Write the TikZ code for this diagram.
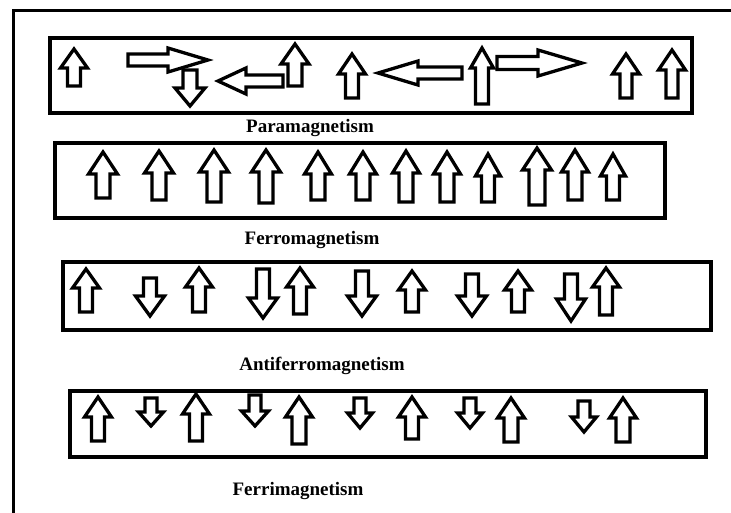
\documentclass[tikz,border=0pt]{standalone}
\usepackage{fontspec}
\setmainfont{Liberation Serif}
\newcommand\UpArr[6]{%
 \draw[arr] (#1,#2) -- ({#1+#4/2},{#2+#6}) -- ({#1+#5/2},{#2+#6}) -- ({#1+#5/2},#3) -- ({#1-#5/2},#3) -- ({#1-#5/2},{#2+#6}) -- ({#1-#4/2},{#2+#6}) -- cycle;}
\newcommand\DnArr[6]{%
 \draw[arr] (#1,#3) -- ({#1+#4/2},{#3-#6}) -- ({#1+#5/2},{#3-#6}) -- ({#1+#5/2},#2) -- ({#1-#5/2},#2) -- ({#1-#5/2},{#3-#6}) -- ({#1-#4/2},{#3-#6}) -- cycle;}
\newcommand\RtArr[6]{%
 \draw[arr] (#3,#1) -- ({#3-#6},{#1-#4/2}) -- ({#3-#6},{#1-#5/2}) -- (#2,{#1-#5/2}) -- (#2,{#1+#5/2}) -- ({#3-#6},{#1+#5/2}) -- ({#3-#6},{#1+#4/2}) -- cycle;}
\newcommand\LtArr[6]{%
 \draw[arr] (#3,#1) -- ({#3+#6},{#1-#4/2}) -- ({#3+#6},{#1-#5/2}) -- (#2,{#1-#5/2}) -- (#2,{#1+#5/2}) -- ({#3+#6},{#1+#5/2}) -- ({#3+#6},{#1+#4/2}) -- cycle;}
\begin{document}
\begin{tikzpicture}[x=1pt,y=-1pt,
  arr/.style={draw=black,fill=white,line width=3.3pt,line join=miter},
  panel/.style={draw=black,line width=3.2pt},
  lbl/.style={font=\bfseries\fontsize{19}{21}\selectfont,inner sep=0pt}]
\useasboundingbox (0,0) rectangle (731,512);
\fill[white] (0,0) rectangle (731,512);
% outer frame
\draw[line width=3pt] (13,515) -- (13,10) -- (735,10);
% panels
\draw[panel] (50,38) rectangle (692,113);
\draw[panel] (55,143) rectangle (665,218);
\draw[panel] (63,262) rectangle (711,330);
\draw[panel] (70,391) rectangle (706,457);
% labels
\node[lbl] (lpara) at (310,128) {Paramagnetism};
\node[lbl] (lferro) at (312,240) {Ferromagnetism};
\node[lbl] (lanti) at (322,366) {Antiferromagnetism};
\node[lbl] (lferri) at (298,491) {Ferrimagnetism};
% Paramagnetism
\UpArr{74}{49}{86}{27}{13}{19}
\RtArr{60}{128}{208}{24}{12}{40}
\DnArr{190}{70}{106}{30}{14}{18}
\LtArr{81}{283}{218}{26}{12}{28}
\UpArr{295}{44}{86}{28}{14}{20}
\UpArr{352}{54}{98}{27}{13}{20}
\LtArr{73}{462}{378}{24}{12}{40}
\UpArr{482}{48}{104}{23}{13}{20}
\RtArr{63}{497}{582}{26}{13}{44}
\UpArr{626}{54}{98}{27}{12}{20}
\UpArr{672}{50}{98}{27}{12}{20}
% Ferromagnetism
\UpArr{103}{152}{198}{29}{14}{22}
\UpArr{159}{151}{200}{29}{14}{22}
\UpArr{214}{150}{202}{29}{14}{22}
\UpArr{266}{150}{203}{29}{14}{22}
\UpArr{318}{152}{200}{27}{14}{22}
\UpArr{363}{152}{200}{27}{14}{22}
\UpArr{406}{151}{202}{27}{14}{22}
\UpArr{447}{152}{202}{27}{14}{22}
\UpArr{488}{154}{202}{25}{13}{22}
\UpArr{537}{148}{205}{29}{16}{22}
\UpArr{575}{150}{200}{27}{14}{22}
\UpArr{613}{154}{200}{25}{13}{22}
% Antiferromagnetism
\UpArr{86}{269}{312}{27}{13}{19}
\DnArr{150}{278}{316}{29}{13}{20}
\UpArr{199}{268}{312}{27}{13}{19}
\DnArr{263}{269}{318}{29}{13}{20}
\UpArr{300}{268}{314}{27}{13}{19}
\DnArr{362}{271}{316}{29}{13}{20}
\UpArr{412}{271}{312}{27}{13}{19}
\DnArr{472}{274}{316}{29}{13}{20}
\UpArr{518}{271}{312}{27}{13}{19}
\DnArr{571}{274}{321}{29}{13}{22}
\UpArr{606}{268}{315}{27}{13}{19}
% Ferrimagnetism
\UpArr{98}{397}{441}{27}{13}{20}
\DnArr{151}{398}{426}{25}{12}{14}
\UpArr{196}{394}{441}{27}{13}{20}
\DnArr{255}{395}{426}{27}{12}{15}
\UpArr{299}{397}{444}{27}{14}{20}
\DnArr{360}{398}{428}{25}{12}{15}
\UpArr{412}{397}{439}{27}{13}{20}
\DnArr{470}{398}{428}{25}{12}{15}
\UpArr{511}{398}{442}{27}{14}{20}
\DnArr{584}{401}{432}{25}{12}{15}
\UpArr{623}{398}{442}{27}{14}{20}
\end{tikzpicture}
\end{document}
